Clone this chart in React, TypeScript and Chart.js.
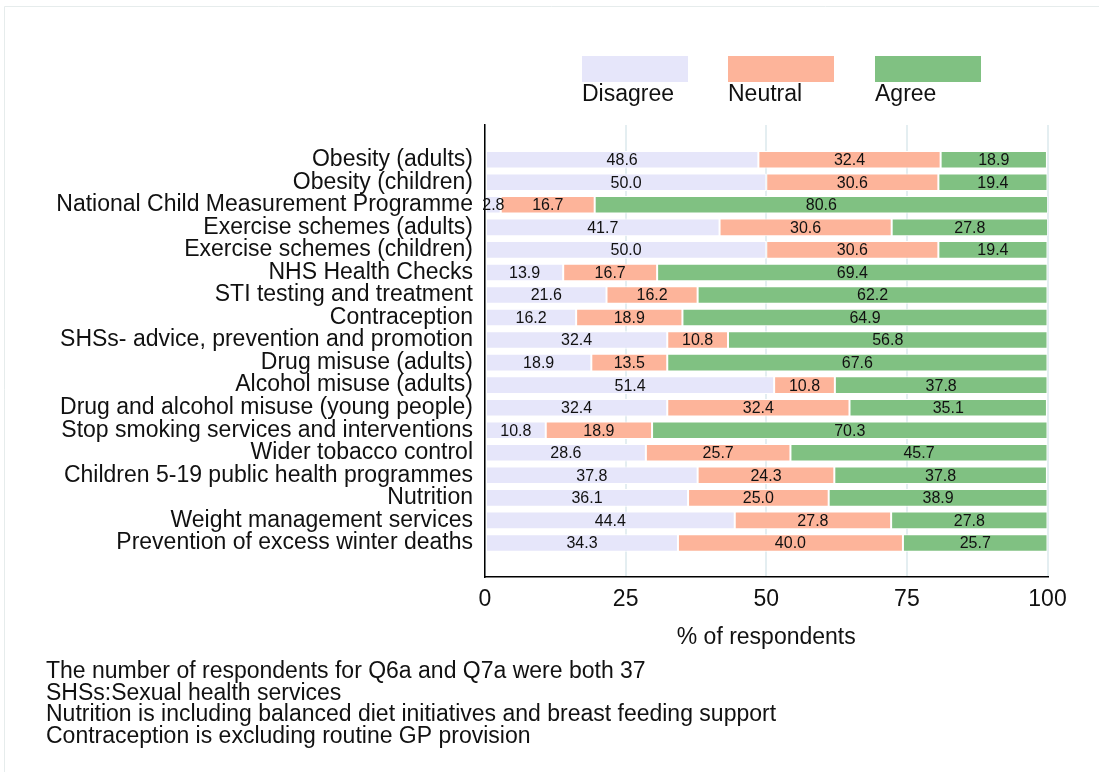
import React, { useEffect, useRef } from "react";
import { Chart, registerables } from "chart.js";

Chart.register(...registerables);

const categories: string[] = [
  "Obesity (adults)",
  "Obesity (children)",
  "National Child Measurement Programme",
  "Exercise schemes (adults)",
  "Exercise schemes (children)",
  "NHS Health Checks",
  "STI testing and treatment",
  "Contraception",
  "SHSs- advice, prevention and promotion",
  "Drug misuse (adults)",
  "Alcohol misuse (adults)",
  "Drug and alcohol misuse (young people)",
  "Stop smoking services and interventions",
  "Wider tobacco control",
  "Children 5-19 public health programmes",
  "Nutrition",
  "Weight management services",
  "Prevention of excess winter deaths",
];

const disagree: number[] = [48.6, 50.0, 2.8, 41.7, 50.0, 13.9, 21.6, 16.2, 32.4, 18.9, 51.4, 32.4, 10.8, 28.6, 37.8, 36.1, 44.4, 34.3];
const neutral: number[] = [32.4, 30.6, 16.7, 30.6, 30.6, 16.7, 16.2, 18.9, 10.8, 13.5, 10.8, 32.4, 18.9, 25.7, 24.3, 25.0, 27.8, 40.0];
const agree: number[] = [18.9, 19.4, 80.6, 27.8, 19.4, 69.4, 62.2, 64.9, 56.8, 67.6, 37.8, 35.1, 70.3, 45.7, 37.8, 38.9, 27.8, 25.7];

const seriesNames: string[] = ["Disagree", "Neutral", "Agree"];
const xTicks: number[] = [0, 25, 50, 75, 100];

const notes: string[] = [
  "The number of respondents for Q6a and Q7a were both 37",
  "SHSs:Sexual health services",
  "Nutrition is including balanced diet initiatives and breast feeding support",
  "Contraception is excluding routine GP provision",
];

const COLORS = ["#E6E6FA", "#FDB49A", "#80C182"];
const FONT = "'Liberation Sans', Arial, sans-serif";

const valueLabelPlugin = {
  id: "valueLabels",
  afterDatasetsDraw(chart: any) {
    const ctx = chart.ctx;
    ctx.save();
    ctx.font = `16px ${FONT}`;
    ctx.fillStyle = "#111";
    ctx.textAlign = "center";
    ctx.textBaseline = "middle";
    chart.data.datasets.forEach((ds: any, di: number) => {
      const meta = chart.getDatasetMeta(di);
      meta.data.forEach((el: any, i: number) => {
        const v = ds.data[i].x;
        const cx = (el.x + el.base) / 2;
        ctx.fillText(v.toFixed(1), cx, el.y + 1);
      });
    });
    ctx.restore();
  },
};

const decorPlugin = {
  id: "decor",
  beforeDraw(chart: any) {
    const ctx = chart.ctx;
    ctx.save();
    ctx.fillStyle = "#fff";
    ctx.fillRect(0, 0, chart.width, chart.height);
    ctx.strokeStyle = "#E6ECEC";
    ctx.lineWidth = 1;
    ctx.beginPath();
    ctx.moveTo(4.5, chart.height);
    ctx.lineTo(4.5, 6.5);
    ctx.lineTo(chart.width, 6.5);
    ctx.stroke();
    ctx.restore();
  },
  afterDraw(chart: any) {
    const ctx = chart.ctx;
    ctx.save();
    const boxX = [582, 728, 875];
    ctx.font = `23px ${FONT}`;
    ctx.textBaseline = "middle";
    ctx.textAlign = "left";
    seriesNames.forEach((name, i) => {
      ctx.fillStyle = COLORS[i];
      ctx.fillRect(boxX[i], 56, 106, 26);
      ctx.fillStyle = "#111";
      ctx.fillText(name, boxX[i], 95);
    });
    ctx.font = `23px ${FONT}`;
    notes.forEach((t, i) => {
      ctx.fillText(t, 46, 672 + i * 21.5);
    });
    ctx.restore();
  },
};

export default function App() {
  const ref = useRef<HTMLCanvasElement | null>(null);

  useEffect(() => {
    if (!ref.current) return;
    const mk = (vals: number[]) => vals.map((v, i) => ({ x: v, y: i }));
    const chart = new Chart(ref.current, {
      type: "bar",
      data: {
        datasets: [
          { label: seriesNames[0], data: mk(disagree), backgroundColor: COLORS[0] },
          { label: seriesNames[1], data: mk(neutral), backgroundColor: COLORS[1] },
          { label: seriesNames[2], data: mk(agree), backgroundColor: COLORS[2] },
        ].map((d) => ({
          ...d,
          borderColor: "#ffffff",
          borderWidth: 1,
          borderSkipped: false,
          barPercentage: 0.78,
          categoryPercentage: 1,
        })),
      } as any,
      options: {
        indexAxis: "y",
        animation: false,
        responsive: false,
        devicePixelRatio: 1,
        layout: { padding: { left: 0, top: 125, right: 51.5, bottom: 112 } },
        plugins: { legend: { display: false }, tooltip: { enabled: false } },
        scales: {
          x: {
            type: "linear",
            stacked: true,
            min: 0,
            max: 100,
            afterBuildTicks: (axis: any) => {
              axis.ticks = xTicks.map((v) => ({ value: v }));
            },
            afterFit: (axis: any) => {
              axis.height = 83;
            },
            grid: { color: "#E4EEF1", lineWidth: 2, drawTicks: false },
            border: { display: true, color: "#000", width: 1.5 },
            ticks: {
              font: { family: FONT, size: 23 },
              color: "#111",
              padding: 9,
              maxRotation: 0,
            },
            title: {
              display: true,
              text: "% of respondents",
              font: { family: FONT, size: 23 },
              color: "#111",
              padding: { top: 0, bottom: 8.2 },
            },
          },
          y: {
            type: "linear",
            stacked: true,
            reverse: true,
            offset: false,
            min: -1.54,
            max: 18.51,
            afterBuildTicks: (axis: any) => {
              axis.ticks = categories.map((_, i) => ({ value: i }));
            },
            afterFit: (axis: any) => {
              axis.width = 485;
            },
            grid: { display: false, drawTicks: false },
            border: { display: true, color: "#000", width: 1.5 },
            ticks: {
              autoSkip: false,
              font: { family: FONT, size: 23 },
              color: "#111",
              padding: 12,
              callback: (v: any) => categories[v as number] ?? "",
            },
          },
        },
      } as any,
      plugins: [valueLabelPlugin, decorPlugin],
    });
    return () => chart.destroy();
  }, []);

  return (
    <div style={{ position: "absolute", left: 0, top: 0, width: 1099, height: 772 }}>
      <canvas ref={ref} width={1099} height={772} style={{ display: "block" }} />
    </div>
  );
}
